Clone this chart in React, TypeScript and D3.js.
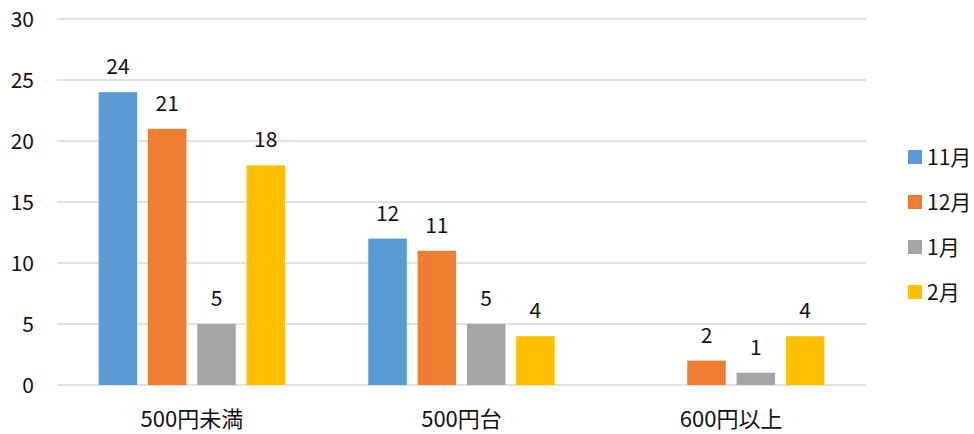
import React from "react";
import * as d3 from "d3";

const categories = ["500円未満", "500円台", "600円以上"];
const seriesNames = ["11月", "12月", "1月", "2月"];
const values11 = [24, 12, null];
const values12 = [21, 11, 2];
const values1 = [5, 5, 1];
const values2 = [18, 4, 4];
const colors = ["#5B9BD5", "#ED7D31", "#A5A5A5", "#FFC000"];
const yTicks = [0, 5, 10, 15, 20, 25, 30];

const seriesValues = [values11, values12, values1, values2];

const W = 974;
const H = 434;
const left = 57;
const right = 866;
const top = 19;
const bottom = 385;
const font = "'Noto Sans CJK JP', 'Noto Sans', sans-serif";

export default function App() {
  const y = d3.scaleLinear().domain([0, 30]).range([bottom, top]);
  const x0 = d3.scaleBand<string>().domain(categories).range([left, right]).paddingInner(0).paddingOuter(0);
  const x1 = d3
    .scaleBand<string>()
    .domain(seriesNames)
    .range([0, x0.bandwidth()])
    .paddingInner(0.219)
    .paddingOuter(0.845);

  return (
    <svg width={W} height={H} style={{ position: "absolute", left: 0, top: 0, background: "#fff" }}>
      {yTicks.map((t) => (
        <g key={t}>
          <line x1={left} x2={right} y1={y(t)} y2={y(t)} stroke="#d9d9d9" strokeWidth={1.3} />
          <text x={34} y={y(t)} dy="0.36em" textAnchor="end" fontFamily={font} fontSize={21} fill="#111">
            {t}
          </text>
        </g>
      ))}
      {categories.map((c, ci) => (
        <g key={c} transform={`translate(${x0(c)},0)`}>
          {seriesNames.map((s, si) => {
            const v = seriesValues[si][ci];
            if (v == null) return null;
            const bx = x1(s)!;
            return (
              <g key={s}>
                <rect x={bx} y={y(v)} width={x1.bandwidth()} height={y(0) - y(v)} fill={colors[si]} />
                <text
                  x={bx + x1.bandwidth() / 2}
                  y={y(v) - 18}
                  textAnchor="middle"
                  fontFamily={font}
                  fontSize={21}
                  fill="#111"
                >
                  {v}
                </text>
              </g>
            );
          })}
          <text
            x={x0.bandwidth() / 2}
            y={427}
            textAnchor="middle"
            fontFamily={font}
            fontSize={22}
            fill="#111"
          >
            {c}
          </text>
        </g>
      ))}
      {seriesNames.map((s, si) => {
        const cy = 157 + si * 45;
        return (
          <g key={s}>
            <rect x={908} y={cy - 7} width={14} height={14} fill={colors[si]} />
            <text x={927} y={cy} dy="0.36em" fontFamily={font} fontSize={21} fill="#111">
              {s}
            </text>
          </g>
        );
      })}
    </svg>
  );
}
